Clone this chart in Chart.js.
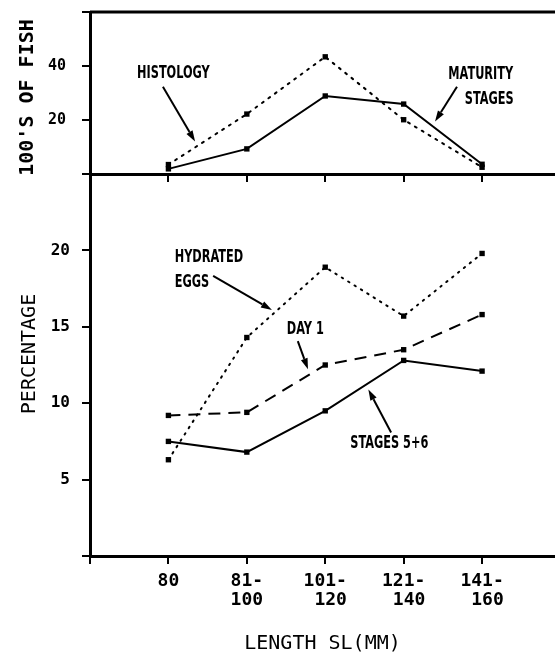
<!DOCTYPE html>
<html>
<head>
<meta charset="utf-8">
<script src="https://cdn.jsdelivr.net/npm/chart.js@4.4.1/dist/chart.umd.min.js"></script>
<style>
  html, body { margin: 0; padding: 0; background: #fff; }
  #wrap { position: relative; width: 555px; height: 654px; overflow: hidden; background: #fff; }
  canvas { position: absolute; left: 0; }
  #fishChart { top: 0; }
  #pctChart { top: 150px; }
</style>
</head>
<body>
<div id="wrap">
  <canvas id="pctChart" width="555" height="504"></canvas>
  <canvas id="fishChart" width="555" height="182"></canvas>
</div>
<script>
// Length classes (standard length, mm)
const categories = ['80', ['81-', '100'], ['101-', ' 120'], ['121-', ' 140'], ['141-', ' 160']];

// Upper panel: hundreds of fish examined
const histology = [3.5, 22.2, 43.4, 20.1, 2.5];
const maturityStages = [1.9, 9.3, 28.9, 25.9, 3.6];
const fishTickLabels = [20, 40];

// Lower panel: percentages
const hydratedEggs = [6.3, 14.3, 18.9, 15.7, 19.8];
const day1 = [9.2, 9.4, 12.5, 13.5, 15.8];
const stages56 = [7.5, 6.8, 9.5, 12.8, 12.1];
const pctTickLabels = [5, 10, 15, 20];

const axisFont = '"DejaVu Sans Mono", "Liberation Mono", monospace';
const noteFont = '"Liberation Sans Narrow", "DejaVu Sans Condensed", "Arial Narrow", sans-serif';
const X_MAX = 5.93;

const toPoints = arr => arr.map((v, i) => ({ x: i + 1, y: v }));

function clearPadding(s) {
  s.paddingTop = 0; s.paddingBottom = 0; s.paddingLeft = 0; s.paddingRight = 0;
}

function xScale(showLabels, height, title) {
  return {
    type: 'linear', min: 0, max: X_MAX,
    ticks: {
      stepSize: 1, includeBounds: false, autoSkip: false, maxRotation: 0,
      display: showLabels, padding: 7, color: '#000',
      font: { family: axisFont, size: 18, weight: 'bold', lineHeight: 1.1 },
      callback: v => (Number.isInteger(v) && v >= 1 && v <= categories.length) ? categories[v - 1] : ''
    },
    grid: { drawOnChartArea: false, drawTicks: true, tickLength: 8, color: '#000', lineWidth: 2 },
    border: { display: true, color: '#000', width: 3 },
    title: title ? {
      display: true, text: title, color: '#000',
      font: { family: axisFont, size: 20, lineHeight: 1 }, padding: { top: 0, bottom: 0 }
    } : { display: false },
    afterFit: s => { s.height = height; clearPadding(s); }
  };
}

function yScale(max, step, labeled, fontSize, pad) {
  return {
    type: 'linear', min: 0, max: max,
    ticks: {
      stepSize: step, padding: pad, color: '#000',
      font: { family: axisFont, size: fontSize, weight: 'bold' },
      callback: v => labeled.includes(v) ? String(v) : ''
    },
    grid: { drawOnChartArea: false, tickLength: 8, color: '#000', lineWidth: 2 },
    border: { display: true, color: '#000', width: 3 },
    afterFit: s => { s.width = 90; clearPadding(s); }
  };
}

function series(label, values, dash) {
  return {
    label: label, data: toPoints(values),
    borderColor: '#000', backgroundColor: '#000', borderWidth: 2,
    borderDash: dash, borderCapStyle: dash.length && dash[0] < 3 ? 'round' : 'butt',
    pointStyle: 'rect', pointRadius: 3.8, pointBorderWidth: 0,
    pointBackgroundColor: '#000', tension: 0
  };
}

// Annotation labels, arrows and axis captions drawn on each panel
function panelDecor(cfg) {
  return {
    id: 'panelDecor',
    afterDatasetsDraw(chart) {
      const { ctx, chartArea: a, scales: { x, y } } = chart;
      ctx.save();
      ctx.fillStyle = '#000';
      ctx.strokeStyle = '#000';

      if (cfg.topBorder) {
        ctx.lineWidth = 3;
        ctx.beginPath();
        ctx.moveTo(a.left, a.top);
        ctx.lineTo(chart.width, a.top);
        ctx.stroke();
      }

      // vertical axis caption
      ctx.save();
      ctx.translate(cfg.yTitle.cx, a.top + cfg.yTitle.dy);
      ctx.rotate(-Math.PI / 2);
      ctx.font = cfg.yTitle.font;
      ctx.textAlign = 'center';
      ctx.textBaseline = 'middle';
      ctx.fillText(cfg.yTitle.text, 0, 0);
      ctx.restore();

      ctx.font = 'bold 17px ' + noteFont;
      ctx.textBaseline = 'middle';
      ctx.textAlign = 'left';
      cfg.notes.forEach(n => {
        ctx.save();
        ctx.translate(x.getPixelForValue(n.x), y.getPixelForValue(n.y));
        ctx.scale(0.74, 1);
        ctx.fillText(n.text, 0, 0);
        ctx.restore();
      });

      ctx.lineWidth = 2;
      cfg.arrows.forEach(ar => {
        const x0 = x.getPixelForValue(ar[0]), y0 = y.getPixelForValue(ar[1]);
        const x1 = x.getPixelForValue(ar[2]), y1 = y.getPixelForValue(ar[3]);
        const ang = Math.atan2(y1 - y0, x1 - x0);
        const len = 11, half = 3.5;
        const bx = x1 - len * Math.cos(ang), by = y1 - len * Math.sin(ang);
        ctx.beginPath();
        ctx.moveTo(x0, y0);
        ctx.lineTo(bx, by);
        ctx.stroke();
        ctx.beginPath();
        ctx.moveTo(x1, y1);
        ctx.lineTo(bx + half * Math.sin(ang), by - half * Math.cos(ang));
        ctx.lineTo(bx - half * Math.sin(ang), by + half * Math.cos(ang));
        ctx.closePath();
        ctx.fill();
      });
      ctx.restore();
    }
  };
}

const common = {
  responsive: false,
  animation: false,
  plugins: { legend: { display: false }, tooltip: { enabled: false } }
};

new Chart(document.getElementById('fishChart'), {
  type: 'line',
  data: {
    datasets: [
      series('Histology', histology, [2, 6]),
      series('Maturity stages', maturityStages, [])
    ]
  },
  options: Object.assign({}, common, {
    layout: { autoPadding: false, padding: { top: 12, left: 0, right: 0, bottom: 0 } },
    scales: {
      x: xScale(false, 8, null),
      y: yScale(60, 20, fishTickLabels, 15, 16)
    }
  }),
  plugins: [panelDecor({
    topBorder: true,
    yTitle: { text: "100'S OF FISH", cx: 28, dy: 85.5, font: 'bold 20px ' + axisFont },
    notes: [
      { text: 'HISTOLOGY', x: 0.6, y: 37.3 },
      { text: 'MATURITY', x: 4.57, y: 36.9 },
      { text: 'STAGES', x: 4.78, y: 27.5 }
    ],
    arrows: [
      [0.93, 32.3, 1.34, 12.0],
      [4.68, 32.3, 4.40, 19.4]
    ]
  })]
});

new Chart(document.getElementById('pctChart'), {
  type: 'line',
  data: {
    datasets: [
      series('Hydrated eggs', hydratedEggs, [1.5, 6]),
      series('Day 1', day1, [12, 8]),
      series('Stages 5+6', stages56, [])
    ]
  },
  options: Object.assign({}, common, {
    layout: { autoPadding: false, padding: { top: 24, left: 0, right: 0, bottom: 0 } },
    scales: {
      x: xScale(true, 98, 'LENGTH SL(MM)'),
      y: yScale(25, 5, pctTickLabels, 16, 12)
    }
  }),
  plugins: [panelDecor({
    topBorder: false,
    yTitle: { text: 'PERCENTAGE', cx: 29.5, dy: 180, font: '20px ' + axisFont },
    notes: [
      { text: 'HYDRATED', x: 1.08, y: 19.55 },
      { text: 'EGGS', x: 1.08, y: 17.9 },
      { text: 'DAY 1', x: 2.51, y: 14.8 },
      { text: 'STAGES 5+6', x: 3.32, y: 7.33 }
    ],
    arrows: [
      [1.57, 18.33, 2.32, 16.1],
      [2.65, 14.06, 2.78, 12.22],
      [3.84, 8.08, 3.55, 10.9]
    ]
  })]
});
</script>
</body>
</html>
